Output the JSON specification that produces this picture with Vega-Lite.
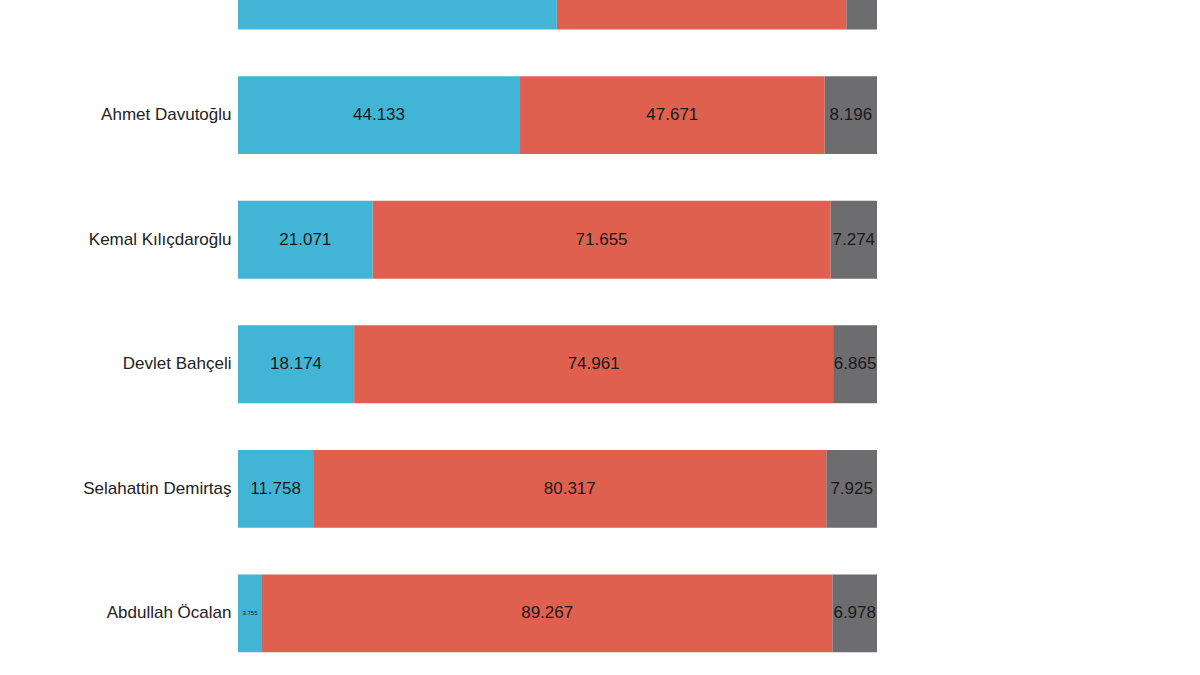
{
  "$schema": "https://vega.github.io/schema/vega-lite/v6.json",
  "width": 639,
  "height": 748,
  "autosize": "none",
  "padding": {"left": 238, "top": -72, "right": 323, "bottom": 0},
  "background": "white",
  "config": {"view": {"stroke": null}},
  "data": {"values": [
    {"name": "Recep Tayyip Erdoğan", "cat": "Olumlu", "sira": 1, "value": 49.883},
    {"name": "Recep Tayyip Erdoğan", "cat": "Olumsuz", "sira": 2, "value": 45.317},
    {"name": "Recep Tayyip Erdoğan", "cat": "Fikri yok", "sira": 3, "value": 4.800},
    {"name": "Ahmet Davutoğlu", "cat": "Olumlu", "sira": 1, "value": 44.133},
    {"name": "Ahmet Davutoğlu", "cat": "Olumsuz", "sira": 2, "value": 47.671},
    {"name": "Ahmet Davutoğlu", "cat": "Fikri yok", "sira": 3, "value": 8.196},
    {"name": "Kemal Kılıçdaroğlu", "cat": "Olumlu", "sira": 1, "value": 21.071},
    {"name": "Kemal Kılıçdaroğlu", "cat": "Olumsuz", "sira": 2, "value": 71.655},
    {"name": "Kemal Kılıçdaroğlu", "cat": "Fikri yok", "sira": 3, "value": 7.274},
    {"name": "Devlet Bahçeli", "cat": "Olumlu", "sira": 1, "value": 18.174},
    {"name": "Devlet Bahçeli", "cat": "Olumsuz", "sira": 2, "value": 74.961},
    {"name": "Devlet Bahçeli", "cat": "Fikri yok", "sira": 3, "value": 6.865},
    {"name": "Selahattin Demirtaş", "cat": "Olumlu", "sira": 1, "value": 11.758},
    {"name": "Selahattin Demirtaş", "cat": "Olumsuz", "sira": 2, "value": 80.317},
    {"name": "Selahattin Demirtaş", "cat": "Fikri yok", "sira": 3, "value": 7.925},
    {"name": "Abdullah Öcalan", "cat": "Olumlu", "sira": 1, "value": 3.755},
    {"name": "Abdullah Öcalan", "cat": "Olumsuz", "sira": 2, "value": 89.267},
    {"name": "Abdullah Öcalan", "cat": "Fikri yok", "sira": 3, "value": 6.978}
  ]},
  "transform": [
    {"stack": "value", "groupby": ["name"], "sort": [{"field": "sira", "order": "ascending"}], "as": ["v0", "v1"]},
    {"calculate": "(datum.v0 + datum.v1) / 2", "as": "mid"}
  ],
  "encoding": {
    "y": {
      "field": "name", "type": "nominal",
      "sort": ["Recep Tayyip Erdoğan", "Ahmet Davutoğlu", "Kemal Kılıçdaroğlu", "Devlet Bahçeli", "Selahattin Demirtaş", "Abdullah Öcalan"],
      "scale": {"paddingInner": 0.375, "paddingOuter": 0.19},
      "axis": {"title": null, "ticks": false, "domain": false, "labelFontSize": 17, "labelFont": "Liberation Sans", "labelColor": "#222222", "labelPadding": 7, "labelLimit": 300}
    }
  },
  "layer": [
    {
      "mark": {"type": "bar"},
      "encoding": {
        "x": {"field": "v0", "type": "quantitative", "scale": {"domain": [0, 100], "nice": false}, "axis": null},
        "x2": {"field": "v1"},
        "color": {
          "field": "cat", "type": "nominal",
          "scale": {"domain": ["Olumlu", "Olumsuz", "Fikri yok"], "range": ["#42b5d6", "#e0604f", "#6d6d70"]},
          "legend": null
        }
      }
    },
    {
      "mark": {"type": "text", "font": "Liberation Sans", "color": "#1a1a1a", "baseline": "middle", "align": "center"},
      "encoding": {
        "x": {"field": "mid", "type": "quantitative"},
        "text": {"field": "value", "type": "quantitative", "format": ".3f"},
        "size": {"condition": {"test": "datum.value < 5", "value": 6}, "value": 17}
      }
    }
  ]
}
